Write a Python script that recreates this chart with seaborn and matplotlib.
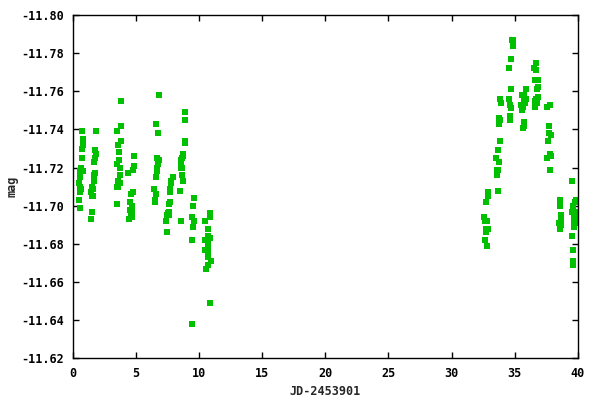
import numpy as np
import pandas as pd
import seaborn as sns
import matplotlib
matplotlib.use("Agg")
import matplotlib.pyplot as plt

# early run (JD-2453901 ~ 0..11)
jd_early = [0.78, 0.86, 0.78, 0.86, 0.78, 0.70, 0.86, 0.55, 0.62, 0.47, 0.55, 0.70, 0.62, 0.47, 0.55,
            1.89, 1.80, 1.89, 1.80, 1.73, 1.80, 1.73, 1.73, 1.57, 1.65, 1.49, 1.57, 1.65, 1.57, 1.49,
            3.87, 3.87, 3.48, 3.87, 3.63, 3.71, 3.71, 3.48, 3.79, 3.79, 3.63, 3.79, 3.55, 3.63, 3.55,
            4.90, 4.90, 4.82, 4.42, 4.66, 4.82, 4.58, 4.74, 4.58, 4.74, 4.66, 4.50, 4.74,
            6.87, 6.64, 6.80, 6.72, 6.87, 6.80, 6.72, 6.72, 6.64, 6.48, 6.64, 6.56, 6.56,
            7.91, 7.83, 7.83, 7.75, 7.75, 7.75, 7.67, 7.67, 7.59, 7.51, 7.67, 7.43, 7.51,
            8.86, 8.86, 8.86, 8.86, 8.78, 8.78, 8.55, 8.70, 8.62, 8.62, 8.70, 8.70, 8.78, 8.47, 8.55,
            9.65, 9.57, 9.49, 9.65, 9.57, 9.49, 9.49,
            10.84, 10.84, 10.52, 10.76, 10.69, 10.60, 10.84, 10.52, 10.69, 10.69, 10.52, 10.69, 10.76,
            10.92, 10.76, 10.60, 10.84]
mag_early = [-11.739, -11.735, -11.730, -11.732, -11.725, -11.720, -11.718, -11.718, -11.715, -11.712,
             -11.710, -11.709, -11.707, -11.703, -11.699,
             -11.739, -11.729, -11.727, -11.725, -11.723, -11.717, -11.716, -11.713, -11.710, -11.709,
             -11.707, -11.705, -11.705, -11.697, -11.693,
             -11.755, -11.742, -11.739, -11.734, -11.732, -11.728, -11.724, -11.722, -11.720, -11.716,
             -11.713, -11.712, -11.710, -11.710, -11.701,
             -11.726, -11.721, -11.719, -11.717, -11.706, -11.707, -11.702, -11.700, -11.698, -11.697,
             -11.696, -11.693, -11.694,
             -11.758, -11.743, -11.738, -11.725, -11.724, -11.722, -11.720, -11.718, -11.715, -11.709,
             -11.706, -11.703, -11.702,
             -11.715, -11.713, -11.712, -11.709, -11.707, -11.702, -11.701, -11.697, -11.696, -11.695,
             -11.695, -11.692, -11.686,
             -11.749, -11.745, -11.734, -11.733, -11.727, -11.726, -11.724, -11.725, -11.723, -11.720,
             -11.720, -11.716, -11.713, -11.708, -11.692,
             -11.704, -11.700, -11.694, -11.692, -11.689, -11.682, -11.638,
             -11.696, -11.694, -11.692, -11.688, -11.684, -11.682, -11.683, -11.682, -11.680, -11.678,
             -11.677, -11.675, -11.673, -11.671, -11.669, -11.667, -11.649]

# late run (JD-2453901 ~ 32..40)
jd_late = [32.86, 32.86, 32.70, 32.54, 32.62, 32.78, 32.70, 32.86, 32.70, 32.62, 32.78,
           33.81, 33.89, 33.73, 33.81, 33.73, 33.81, 33.65, 33.49, 33.73, 33.65, 33.57, 33.57, 33.65,
           34.76, 34.84, 34.84, 34.68, 34.52, 34.68, 34.52, 34.60, 34.68, 34.60, 34.60,
           35.87, 35.71, 35.87, 35.55, 35.71, 35.63, 35.47, 35.79, 35.63, 35.55, 35.71, 35.71, 35.63,
           36.66, 36.50, 36.66, 36.58, 36.82, 36.82, 36.74, 36.82, 36.66, 36.58, 36.74, 36.58,
           37.53, 37.77, 37.69, 37.69, 37.85, 37.61, 37.77, 37.85, 37.53, 37.77,
           38.56, 38.56, 38.64, 38.64, 38.48, 38.64, 38.56,
           39.51, 39.83, 39.75, 39.59, 39.51, 39.83, 39.67, 39.83, 39.67, 39.83, 39.75, 39.67, 39.75,
           39.67, 39.51, 39.59, 39.59, 39.59]
mag_late = [-11.707, -11.705, -11.702, -11.694, -11.692, -11.692, -11.688, -11.688, -11.686, -11.682, -11.679,
            -11.756, -11.754, -11.746, -11.745, -11.743, -11.734, -11.729, -11.725, -11.723, -11.719,
            -11.719, -11.716, -11.708,
            -11.787, -11.787, -11.784, -11.777, -11.772, -11.761, -11.756, -11.753, -11.751, -11.747, -11.745,
            -11.761, -11.758, -11.756, -11.758, -11.755, -11.753, -11.753, -11.754, -11.752, -11.750,
            -11.744, -11.742, -11.741,
            -11.775, -11.772, -11.771, -11.766, -11.766, -11.762, -11.761, -11.757, -11.756, -11.755,
            -11.754, -11.752,
            -11.752, -11.753, -11.742, -11.738, -11.737, -11.734, -11.727, -11.726, -11.725, -11.719,
            -11.703, -11.700, -11.695, -11.693, -11.691, -11.690, -11.688,
            -11.713, -11.703, -11.702, -11.700, -11.697, -11.697, -11.696, -11.695, -11.694, -11.693,
            -11.693, -11.691, -11.691, -11.689, -11.684, -11.677, -11.671, -11.669]

y_ticks = [-11.80, -11.78, -11.76, -11.74, -11.72, -11.70, -11.68, -11.66, -11.64, -11.62]
x_ticks = [0, 5, 10, 15, 20, 25, 30, 35, 40]

df = pd.DataFrame({"jd": jd_early + jd_late, "mag": mag_early + mag_late})

sns.set_style("ticks")
plt.rcParams["font.family"] = ["DejaVu Sans Mono"]
plt.rcParams["font.weight"] = "bold"
plt.rcParams["axes.unicode_minus"] = False

fig = plt.figure(figsize=(6, 4), dpi=100)
ax = fig.add_axes([0.121, 0.104, 0.842, 0.8585])
sns.scatterplot(data=df, x="jd", y="mag", marker="s", s=16, color="#00c000",
                linewidth=0, ax=ax)

ax.set_xlim(0, 40)
ax.set_ylim(-11.62, -11.80)
ax.set_xticks(x_ticks)
ax.set_yticks(y_ticks)
ax.set_yticklabels([f"{t:.2f}" for t in y_ticks])
ax.tick_params(direction="in", length=4, width=1, top=True, right=True,
               labelsize=8.5, colors="black", pad=6)
for sp in ax.spines.values():
    sp.set_linewidth(1)
    sp.set_color("black")
    sp.set_visible(True)
ax.set_xlabel("JD-2453901", fontsize=8.5, fontweight="bold")
ax.xaxis.set_label_coords(0.5, -0.078)
ax.set_ylabel("mag", fontsize=8.5, fontweight="bold")
ax.yaxis.set_label_coords(-0.108, 0.5)

fig.savefig("out.png", dpi=100)
